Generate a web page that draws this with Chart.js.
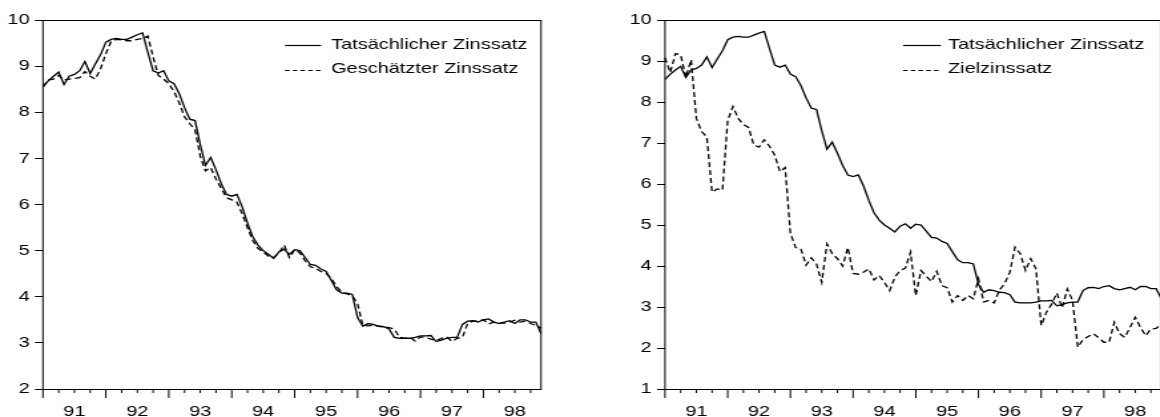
<!DOCTYPE html>
<html lang="de">
<head>
<meta charset="utf-8">
<title>Zinssatz</title>
<script src="https://cdn.jsdelivr.net/npm/chart.js@4.4.1/dist/chart.umd.min.js"></script>
<style>
  html, body { margin: 0; padding: 0; background: #fff; }
  body { width: 1160px; height: 417px; overflow: hidden; position: relative; }
  /* the original graph is stretched sideways, so the canvases are too */
  canvas { position: absolute; top: 0; transform-origin: 0 0; transform: scaleX(1.33); }
  #chartLeft { left: 0; }
  #chartRight { left: 580px; }
</style>
</head>
<body>
<canvas id="chartLeft" width="436" height="417"></canvas>
<canvas id="chartRight" width="450" height="417"></canvas>
<script>
// monthly observations 1991:01 - 1998:12
const months = [];
for (let y = 1991; y <= 1998; y++) {
  for (let m = 1; m <= 12; m++) months.push(y + ':' + String(m).padStart(2, '0'));
}
const yearTicks = ['91', '92', '93', '94', '95', '96', '97', '98'];

const actualRate = [
  8.55, 8.68, 8.78, 8.87, 8.60, 8.78, 8.82, 8.90, 9.10, 8.84, 9.05, 9.25,
  9.52, 9.58, 9.60, 9.58, 9.58, 9.63, 9.68, 9.72, 9.30, 8.90, 8.85, 8.90,
  8.68, 8.62, 8.40, 8.10, 7.85, 7.82, 7.30, 6.85, 7.02, 6.75, 6.45, 6.22,
  6.18, 6.22, 5.95, 5.60, 5.30, 5.12, 5.00, 4.92, 4.83, 4.97, 5.03, 4.92,
  5.02, 5.00, 4.85, 4.70, 4.68, 4.60, 4.55, 4.35, 4.15, 4.08, 4.08, 4.05,
  3.55, 3.36, 3.42, 3.40, 3.36, 3.35, 3.30, 3.12, 3.10, 3.10, 3.10, 3.12,
  3.15, 3.15, 3.16, 3.03, 3.06, 3.10, 3.12, 3.12, 3.40, 3.47, 3.48, 3.45,
  3.50, 3.52, 3.45, 3.42, 3.45, 3.48, 3.42, 3.50, 3.50, 3.45, 3.45, 3.20
];

const estimatedRate = [
  8.55, 8.70, 8.72, 8.80, 8.70, 8.72, 8.73, 8.75, 8.88, 8.78, 8.72, 8.95,
  9.27, 9.54, 9.58, 9.57, 9.55, 9.55, 9.58, 9.60, 9.65, 9.20, 8.80, 8.72,
  8.62, 8.45, 8.20, 7.90, 7.75, 7.62, 7.05, 6.73, 6.80, 6.55, 6.35, 6.15,
  6.10, 6.05, 5.80, 5.50, 5.22, 5.05, 4.97, 4.88, 4.85, 4.95, 5.12, 4.85,
  5.02, 4.95, 4.78, 4.65, 4.62, 4.55, 4.50, 4.40, 4.22, 4.10, 4.06, 4.02,
  3.85, 3.38, 3.37, 3.38, 3.36, 3.35, 3.33, 3.30, 3.12, 3.10, 3.12, 3.04,
  3.13, 3.12, 3.08, 3.05, 3.10, 3.13, 3.03, 3.10, 3.12, 3.42, 3.47, 3.48,
  3.50, 3.41, 3.45, 3.43, 3.43, 3.45, 3.49, 3.45, 3.47, 3.42, 3.38, 3.32
];

const targetRate = [
  9.08, 8.72, 9.18, 9.15, 8.60, 9.03, 7.60, 7.28, 7.15, 5.80, 5.88, 5.85,
  7.55, 7.89, 7.60, 7.45, 7.38, 6.95, 6.90, 7.08, 6.92, 6.70, 6.30, 6.40,
  4.80, 4.45, 4.42, 4.02, 4.20, 4.05, 3.60, 4.54, 4.30, 4.18, 4.00, 4.45,
  3.82, 3.80, 3.85, 3.93, 3.66, 3.77, 3.60, 3.40, 3.73, 3.89, 3.95, 4.34,
  3.28, 3.89, 3.75, 3.62, 3.87, 3.52, 3.47, 3.12, 3.28, 3.16, 3.28, 3.20,
  3.69, 3.12, 3.16, 3.10, 3.41, 3.57, 3.85, 4.46, 4.30, 3.89, 4.18, 3.93,
  2.55, 2.87, 3.07, 3.34, 2.98, 3.44, 3.16, 2.02, 2.20, 2.28, 2.35, 2.25,
  2.14, 2.14, 2.63, 2.35, 2.26, 2.50, 2.75, 2.50, 2.30, 2.46, 2.48, 2.59
];

const FONT = '"Liberation Sans", Arial, sans-serif';
Chart.defaults.font.family = FONT;
Chart.defaults.font.size = 15;
Chart.defaults.color = '#000';

// frame, quarterly x ticks and the line legend
const framePlugin = {
  id: 'frame',
  afterDraw(chart, args, opts) {
    const { ctx, chartArea: a } = chart;
    const x = chart.scales.x;
    ctx.save();
    ctx.strokeStyle = '#000';
    ctx.lineWidth = 1;
    ctx.setLineDash([]);
    ctx.strokeRect(a.left, Math.round(a.top) + 0.5, a.right - a.left, Math.round(a.bottom) - Math.round(a.top));

    ctx.beginPath();
    for (let i = 0; i < months.length; i += 3) {
      const px = x.getPixelForValue(i);
      const len = i % 12 === 0 ? 9 : 4;
      ctx.moveTo(px, a.bottom);
      ctx.lineTo(px, a.bottom + len);
    }
    ctx.stroke();

    ctx.font = '15px ' + FONT;
    ctx.textBaseline = 'middle';
    ctx.fillStyle = '#000';
    chart.data.datasets.forEach((ds, k) => {
      const ty = opts.top + k * 24;
      const ly = ty + 0.5 + k;
      ctx.beginPath();
      ctx.setLineDash(ds.borderDash ? [3.4, 2.4] : []);
      ctx.lineWidth = 1.2;
      ctx.moveTo(opts.lineFrom, ly);
      ctx.lineTo(opts.lineTo, ly);
      ctx.stroke();
      ctx.setLineDash([]);
      ctx.fillText(ds.label, opts.textX, ty);
    });
    ctx.restore();
  }
};

function makeChart(id, series, yMin, yMax, axisWidth, padRight, legend) {
  const canvas = document.getElementById(id);
  return new Chart(canvas.getContext('2d'), {
    type: 'line',
    data: {
      labels: months,
      datasets: series.map(s => ({
        label: s.label,
        data: s.data,
        borderColor: '#000',
        borderWidth: 1.3,
        borderDash: s.dashed ? [5, 3] : undefined,
        pointRadius: 0,
        tension: 0,
        fill: false
      }))
    },
    options: {
      responsive: false,
      animation: false,
      layout: { padding: { left: 0, right: padRight, top: 20, bottom: 0 } },
      plugins: {
        legend: { display: false },
        tooltip: { enabled: false },
        frame: legend
      },
      scales: {
        x: {
          type: 'category',
          grid: { display: false },
          border: { display: false },
          ticks: {
            autoSkip: false,
            maxRotation: 0,
            padding: 6,
            callback: (v, i) => (i % 12 === 6 ? yearTicks[(i - 6) / 12] : '')
          },
          afterFit: s => { s.height = 28; }
        },
        y: {
          min: yMin,
          max: yMax,
          grid: { drawOnChartArea: false, tickLength: 6, tickColor: '#000', tickWidth: 1 },
          border: { display: false },
          ticks: { stepSize: 1, padding: 4 },
          afterFit: s => { s.width = axisWidth; }
        }
      }
    },
    plugins: [framePlugin]
  });
}

makeChart('chartLeft', [
  { label: 'Tatsächlicher Zinssatz', data: actualRate },
  { label: 'Geschätzter Zinssatz', data: estimatedRate, dashed: true }
], 2, 10, 32.3, 29.2, { top: 45, lineFrom: 214.3, lineTo: 241.4, textX: 248.9 });

makeChart('chartRight', [
  { label: 'Tatsächlicher Zinssatz', data: actualRate },
  { label: 'Zielzinssatz', data: targetRate, dashed: true }
], 1, 10, 63.9, 12.9, { top: 45, lineFrom: 242.9, lineTo: 271.4, textX: 276.7 });
</script>
</body>
</html>
